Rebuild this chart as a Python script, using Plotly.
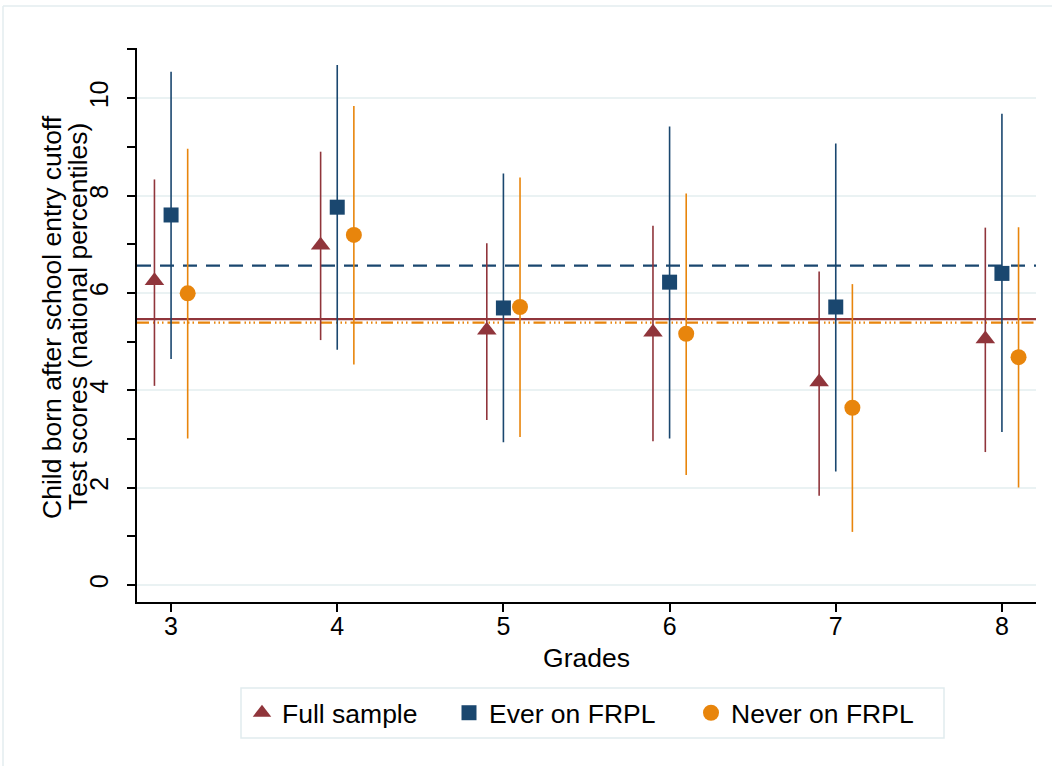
import plotly.graph_objects as go

grades = [3, 4, 5, 6, 7, 8]
offsets = {"Full sample": -0.1, "Ever on FRPL": 0.0, "Never on FRPL": 0.1}

full_est = [6.25, 6.98, 5.23, 5.19, 4.17, 5.05]
full_lo = [4.09, 5.03, 3.39, 2.95, 1.83, 2.73]
full_hi = [8.33, 8.90, 7.02, 7.38, 6.44, 7.34]

ever_est = [7.60, 7.76, 5.69, 6.22, 5.71, 6.40]
ever_lo = [4.64, 4.83, 2.93, 3.01, 2.33, 3.14]
ever_hi = [10.54, 10.68, 8.45, 9.42, 9.07, 9.68]

never_est = [5.99, 7.19, 5.71, 5.16, 3.64, 4.68]
never_lo = [3.01, 4.53, 3.04, 2.26, 1.09, 2.00]
never_hi = [8.96, 9.84, 8.37, 8.04, 6.18, 7.35]

mean_full = 5.46
mean_ever = 6.56
mean_never = 5.39

y_ticks = [0, 2, 4, 6, 8, 10]

MAROON = "#90353b"
NAVY = "#1a476f"
ORANGE = "#e8850c"
FONT = "Liberation Sans, Arial, sans-serif"

L, T, W, H = 137, 48, 899, 554
def px_x(p):
    return (p - L) / W
def px_y(p):
    return (T + H - p) / H

fig = go.Figure()

series = [
    ("Full sample", full_est, full_lo, full_hi, MAROON, "triangle-up", 17, "legend", 264),
    ("Ever on FRPL", ever_est, ever_lo, ever_hi, NAVY, "square", 15, "legend2", 471),
    ("Never on FRPL", never_est, never_lo, never_hi, ORANGE, "circle", 16, "legend3", 713),
]

for name, est, lo, hi, col, sym, sz, lg, _ in series:
    xs = [g + offsets[name] for g in grades]
    fig.add_trace(go.Scatter(
        x=xs, y=est, mode="markers", name=name, legend=lg,
        marker=dict(symbol=sym, size=sz, color=col, line=dict(width=0)),
        error_y=dict(type="data", symmetric=False,
                     array=[h - e for h, e in zip(hi, est)],
                     arrayminus=[e - l for e, l in zip(est, lo)],
                     color=col, thickness=1.6, width=0),
    ))

# mean lines
fig.add_shape(type="line", xref="paper", x0=0, x1=1, y0=mean_ever, y1=mean_ever,
              line=dict(color=NAVY, width=2.2, dash="14px,9px"), layer="between")
fig.add_shape(type="line", xref="paper", x0=0, x1=1, y0=mean_never, y1=mean_never,
              line=dict(color=ORANGE, width=2.2,
                        dash="12px,4px,1.5px,3px,1.5px,3px,1.5px,4px"), layer="between")
fig.add_shape(type="line", xref="paper", x0=0, x1=1, y0=mean_full, y1=mean_full,
              line=dict(color=MAROON, width=2.4), layer="between")

# outer graph-region frame (top and left edges visible)
fig.add_shape(type="line", xref="paper", yref="paper",
              x0=px_x(3), x1=px_x(1052), y0=px_y(6), y1=px_y(6),
              line=dict(color="#e3ecef", width=1.5), layer="below")
fig.add_shape(type="line", xref="paper", yref="paper",
              x0=px_x(3), x1=px_x(3), y0=px_y(6), y1=px_y(766),
              line=dict(color="#e3ecef", width=1.5), layer="below")
# legend box
fig.add_shape(type="rect", xref="paper", yref="paper",
              x0=px_x(241), x1=px_x(944), y0=px_y(738), y1=px_y(688),
              line=dict(color="#e1ebee", width=1.5), fillcolor="white",
              layer="below")

# y-axis title (two lines)
fig.add_annotation(text="Child born after school entry cutoff", xref="paper", yref="paper",
                   x=px_x(52), y=px_y(317), textangle=-90, showarrow=False,
                   xanchor="center", yanchor="middle",
                   font=dict(family=FONT, size=26.5, color="black"))
fig.add_annotation(text="Test scores (national percentiles)", xref="paper", yref="paper",
                   x=px_x(78), y=px_y(317), textangle=-90, showarrow=False,
                   xanchor="center", yanchor="middle",
                   font=dict(family=FONT, size=26.5, color="black"))

legend_common = dict(orientation="h", yanchor="middle", y=px_y(713), xanchor="left",
                     font=dict(family=FONT, size=26.5, color="black"),
                     borderwidth=0, bgcolor="rgba(0,0,0,0)", itemsizing="trace")
legends = {}
for i, (name, *_rest) in enumerate(series):
    sym_x = _rest[-1]
    key = "legend" if i == 0 else f"legend{i+1}"
    legends[key] = dict(legend_common, x=px_x(sym_x - 22))

fig.update_layout(
    width=1052, height=770,
    margin=dict(l=L, r=1052 - L - W, t=T, b=770 - T - H, autoexpand=False),
    paper_bgcolor="white", plot_bgcolor="white",
    font=dict(family=FONT, size=25, color="black"),
    showlegend=True,
    **legends,
    xaxis=dict(range=[2.795, 8.205], tickvals=grades, ticktext=[str(g) for g in grades],
               automargin=False,
               showgrid=False, zeroline=False, showline=True, linecolor="black", linewidth=1.5,
               ticks="outside", ticklen=8, tickwidth=1.5, tickcolor="black",
               tickfont=dict(family=FONT, size=25), ticklabelstandoff=-7,
               title=dict(text="Grades", font=dict(family=FONT, size=26.5), standoff=10)),
    yaxis=dict(range=[-0.35, 11.03], tickvals=y_ticks, ticktext=[str(v) for v in y_ticks],
               tickangle=-90, automargin=False,
               showgrid=True, gridcolor="#eaf2f3", gridwidth=1.5,
               zeroline=False, showline=True, linecolor="black", linewidth=1.5,
               ticks="outside", ticklen=8, tickwidth=1.5, tickcolor="black",
               minor=dict(tickvals=[1, 3, 5, 7, 9, 11], ticks="outside", ticklen=8,
                          tickwidth=1.5, tickcolor="black", showgrid=False),
               tickfont=dict(family=FONT, size=25), ticklabelstandoff=9),
)

fig.write_html("out.html", config={"displayModeBar": False},
               post_script="document.body.style.margin='0';document.body.style.padding='0';")
